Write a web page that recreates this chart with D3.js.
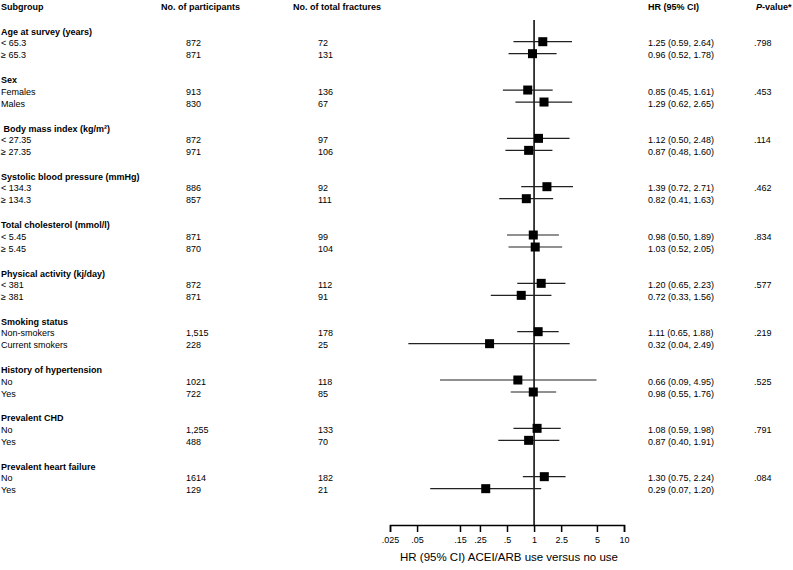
<!DOCTYPE html>
<html><head><meta charset="utf-8">
<script src="https://cdn.jsdelivr.net/npm/d3@7"></script>
<style>body{margin:0;background:#fff}svg{display:block}text{font-family:"Liberation Sans",Arial,sans-serif;fill:#000;white-space:pre}</style>
</head><body>
<script>
const groups = ["Age at survey (years)", "Sex", " Body mass index (kg/m²)", "Systolic blood pressure (mmHg)", "Total cholesterol (mmol/l)", "Physical activity (kj/day)", "Smoking status", "History of hypertension", "Prevalent CHD", "Prevalent heart failure"];
const subgroups = ["< 65.3","≥ 65.3","Females","Males","< 27.35","≥ 27.35","< 134.3","≥ 134.3","< 5.45","≥ 5.45","< 381","≥ 381","Non-smokers","Current smokers","No","Yes","No","Yes","No","Yes"];
const participants = ["872","871","913","830","872","971","886","857","871","870","872","871","1,515","228","1021","722","1,255","488","1614","129"];
const fractures = [72,131,136,67,97,106,92,111,99,104,112,91,178,25,118,85,133,70,182,21];
const hr = [1.25,0.96,0.85,1.29,1.12,0.87,1.39,0.82,0.98,1.03,1.20,0.72,1.11,0.32,0.66,0.98,1.08,0.87,1.30,0.29];
const lo = [0.59,0.52,0.45,0.62,0.50,0.48,0.72,0.41,0.50,0.52,0.65,0.33,0.65,0.04,0.09,0.55,0.59,0.40,0.75,0.07];
const hi = [2.64,1.78,1.61,2.65,2.48,1.60,2.71,1.63,1.89,2.05,2.23,1.56,1.88,2.49,4.95,1.76,1.98,1.91,2.24,1.20];
const pvals = [".798",".453",".114",".462",".834",".577",".219",".525",".791",".084"];
const tickValues = [0.025,0.05,0.15,0.25,0.5,1,2,5,10];
const tickLabels = [".025",".05",".15",".25",".5","1","2.5","5","10"];

const W = 793, H = 570;
const svg = d3.select("body").append("svg").attr("width", W).attr("height", H);
const x = d3.scaleLog().domain([0.025, 10]).range([390, 624]);
const gy = d3.scaleLinear().domain([0, groups.length]).range([41.7, 41.7 + 48.33 * groups.length]);
const rowY = i => gy(Math.floor(i / 2)) + (i % 2) * 12;
const fs = 9;
const tx = {sub: 1, part: 186, frac: 318, hr: 648, p: 754};

function txt(xp, yc, s, bold, size) {
  return svg.append("text").attr("x", xp).attr("y", yc).attr("dy", "0.35em")
    .attr("font-size", size || fs).attr("font-weight", bold ? "bold" : "normal").text(s);
}
// header
txt(1, 7, "Subgroup", true);
txt(161, 7, "No. of participants", true);
txt(293, 7, "No. of total fractures", true);
txt(648, 7, "HR (95% CI)", true);
const ph = svg.append("text").attr("x", 756).attr("y", 7).attr("dy", "0.35em").attr("font-size", fs).attr("font-weight", "bold");
ph.append("tspan").attr("font-style", "italic").text("P");
ph.append("tspan").text("-value*");

groups.forEach((g, k) => {
  txt(1, gy(k) - 10, g, true);
  txt(tx.p, gy(k) + 1.5, pvals[k], false);
});
subgroups.forEach((s, i) => {
  const y = rowY(i) + 1.5;
  txt(tx.sub, y, s);
  txt(tx.part, y, participants[i]);
  txt(tx.frac, y, fractures[i]);
  txt(tx.hr, y, `${hr[i].toFixed(2)} (${lo[i].toFixed(2)}, ${hi[i].toFixed(2)})`);
});

// reference line
svg.append("line").attr("x1", x(1)).attr("x2", x(1)).attr("y1", 20).attr("y2", 525)
  .attr("stroke", "#000").attr("stroke-width", 1.5);

// CI lines and markers
const fp = svg.append("g");
subgroups.forEach((s, i) => {
  fp.append("line").attr("x1", x(lo[i])).attr("x2", x(hi[i])).attr("y1", rowY(i)).attr("y2", rowY(i))
    .attr("stroke", "#222").attr("stroke-width", 1.2);
  fp.append("rect").attr("x", x(hr[i]) - 4.5).attr("y", rowY(i) - 4.5).attr("width", 9).attr("height", 9).attr("fill", "#000");
});

// axis
const axis = d3.axisBottom(x).tickValues(tickValues).tickFormat((d, i) => tickLabels[i]).tickSizeOuter(0).tickSize(7);
const ag = svg.append("g").attr("transform", "translate(0,525)").call(axis);
ag.select(".domain").attr("stroke-width", 1.5);
ag.selectAll(".tick line").attr("stroke-width", 1.5);
ag.selectAll(".tick text").attr("font-size", fs).attr("font-family", "Liberation Sans, Arial, sans-serif").attr("dy", "1.0em").attr("y", 9);
txt(509, 557, "HR (95% CI) ACEI/ARB use versus no use", false, 11.5).attr("text-anchor", "middle");
</script>
</body></html>
